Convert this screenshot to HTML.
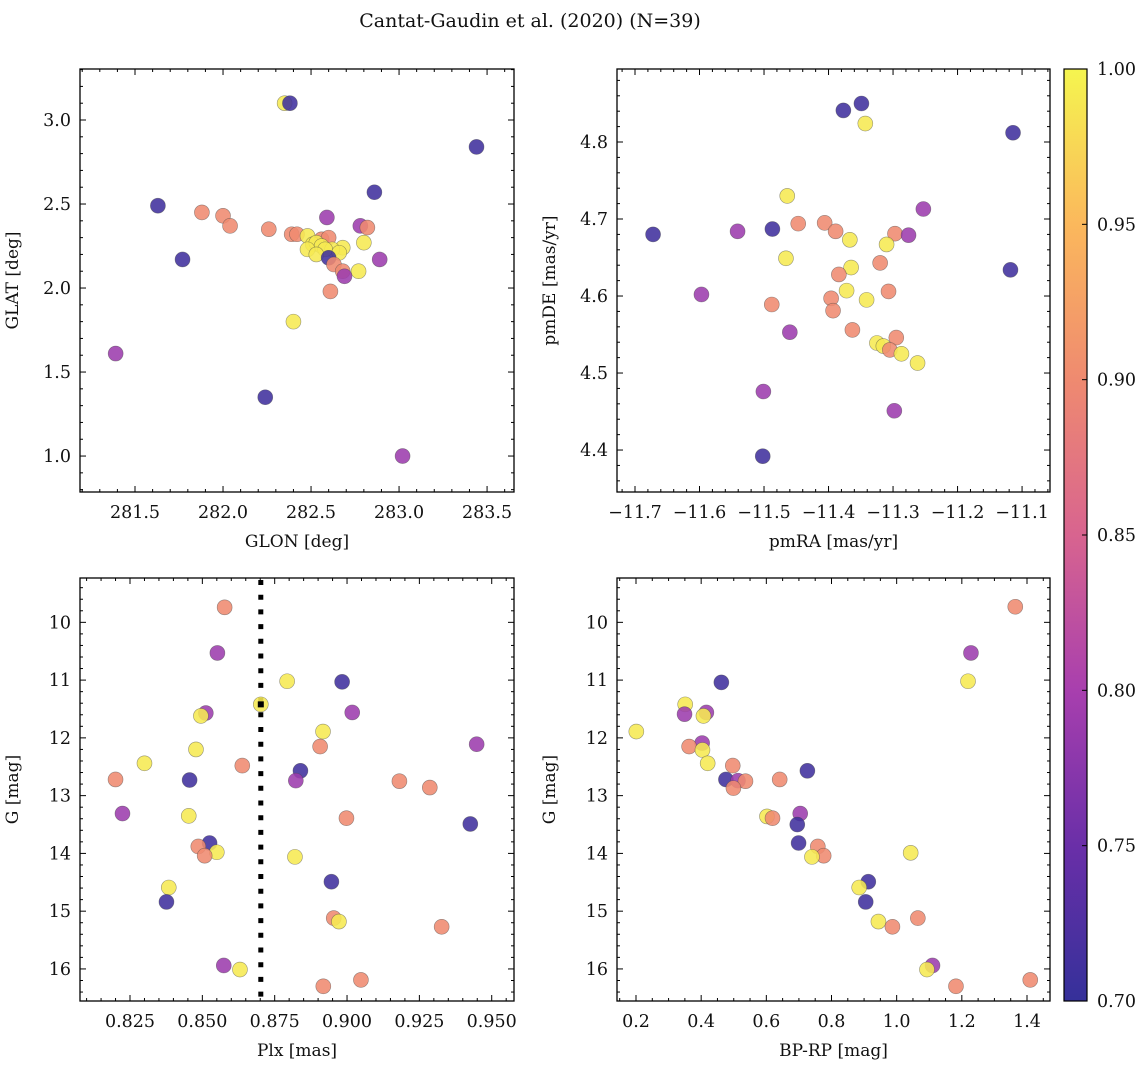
<!DOCTYPE html>
<html><head><meta charset="utf-8">
<style>
html,body{margin:0;padding:0;background:#fff;}
svg{display:block;}
text{font-family:"DejaVu Serif","Liberation Serif",serif;fill:#111;}
</style></head>
<body>
<svg id="fig" width="1148" height="1068" viewBox="0 0 1148 1068" xmlns="http://www.w3.org/2000/svg">
<defs>
<linearGradient id="cbgrad" x1="0" y1="1" x2="0" y2="0">
<stop offset="0" stop-color="#35309a"/>
<stop offset="0.1667" stop-color="#6a2fa8"/>
<stop offset="0.3333" stop-color="#a83fae"/>
<stop offset="0.5" stop-color="#d8648f"/>
<stop offset="0.6667" stop-color="#ef8a70"/>
<stop offset="0.8333" stop-color="#fbb85c"/>
<stop offset="1" stop-color="#f5f54f"/>
</linearGradient>
</defs>
<text x="530" y="27" text-anchor="middle" font-size="19">Cantat-Gaudin et al. (2020) (N=39)</text>
</svg>
<script>
// ---- Top-left: GLON vs GLAT ----
const tlGlon=[282.35,282.38,283.44,282.86,281.63,281.88,282.00,282.59,282.04,282.78,282.82,282.26,282.39,282.42,282.56,282.60,282.48,282.51,282.53,282.80,282.56,282.68,282.48,282.62,282.58,282.66,282.53,282.60,281.77,282.89,282.63,282.77,282.68,282.69,282.61,282.40,281.39,282.24,283.02];
const tlGlat=[3.10,3.10,2.84,2.57,2.49,2.45,2.43,2.42,2.37,2.37,2.36,2.35,2.32,2.32,2.29,2.30,2.31,2.26,2.27,2.27,2.25,2.24,2.23,2.23,2.23,2.21,2.20,2.18,2.17,2.17,2.14,2.10,2.10,2.07,1.98,1.80,1.61,1.35,1.00];
const tlProb=[0.99,0.71,0.71,0.71,0.71,0.90,0.90,0.79,0.90,0.79,0.90,0.90,0.90,0.90,0.90,0.90,0.99,0.99,0.99,0.99,0.99,0.99,0.99,0.99,0.99,0.99,0.99,0.71,0.71,0.79,0.90,0.99,0.90,0.79,0.90,0.99,0.79,0.71,0.79];
// ---- Top-right: pmRA vs pmDE ----
const trPmra=[-11.377,-11.349,-11.343,-11.114,-11.464,-11.253,-11.447,-11.406,-11.389,-11.672,-11.541,-11.487,-11.367,-11.297,-11.276,-11.310,-11.466,-11.320,-11.365,-11.118,-11.384,-11.372,-11.307,-11.597,-11.396,-11.341,-11.488,-11.393,-11.460,-11.363,-11.295,-11.325,-11.315,-11.305,-11.287,-11.262,-11.501,-11.298,-11.502];
const trPmde=[4.841,4.850,4.824,4.812,4.730,4.713,4.694,4.695,4.684,4.680,4.684,4.687,4.673,4.681,4.679,4.667,4.649,4.643,4.637,4.634,4.628,4.607,4.606,4.602,4.597,4.595,4.589,4.581,4.553,4.556,4.546,4.539,4.535,4.530,4.525,4.513,4.476,4.451,4.392];
const trProb=[0.71,0.71,0.99,0.71,0.99,0.79,0.90,0.90,0.90,0.71,0.79,0.71,0.99,0.90,0.79,0.99,0.99,0.90,0.99,0.71,0.90,0.99,0.90,0.79,0.90,0.99,0.90,0.90,0.79,0.90,0.90,0.99,0.99,0.90,0.99,0.99,0.79,0.79,0.71];
// ---- Bottom-left: Plx vs G ----
const blPlx=[0.8577,0.8552,0.8793,0.8983,0.8702,0.8512,0.8495,0.9018,0.8917,0.8907,0.9448,0.8478,0.8300,0.8638,0.8839,0.8200,0.8456,0.8823,0.9181,0.9286,0.8224,0.8453,0.8998,0.9426,0.8525,0.8486,0.8550,0.8508,0.8820,0.8946,0.8384,0.8376,0.8954,0.8972,0.9327,0.8574,0.8630,0.8918,0.9048];
const blG=[9.74,10.53,11.02,11.03,11.42,11.57,11.62,11.56,11.89,12.15,12.11,12.20,12.44,12.48,12.57,12.72,12.73,12.74,12.75,12.86,13.31,13.35,13.39,13.49,13.82,13.88,13.98,14.04,14.06,14.49,14.59,14.84,15.12,15.18,15.27,15.94,16.01,16.30,16.19];
const blProb=[0.90,0.79,0.99,0.71,0.99,0.79,0.99,0.79,0.99,0.90,0.79,0.99,0.99,0.90,0.71,0.90,0.71,0.79,0.90,0.90,0.79,0.99,0.90,0.71,0.71,0.90,0.99,0.90,0.99,0.71,0.99,0.71,0.90,0.99,0.90,0.79,0.99,0.90,0.90];
const blMarkedPlx=[0.8702];
const blMarkedG=[11.42];
const blVline=[0.8702];
// ---- Bottom-right: BP-RP vs G ----
const brBprp=[1.364,1.228,1.219,0.462,0.351,0.349,0.416,0.407,0.201,0.403,0.363,0.404,0.420,0.497,0.726,0.476,0.513,0.536,0.499,0.641,0.704,0.602,0.619,0.695,0.699,0.758,0.776,0.740,1.043,0.913,0.885,0.905,1.065,0.944,0.987,1.110,1.093,1.182,1.410];
const brG=[9.73,10.53,11.02,11.04,11.42,11.59,11.56,11.62,11.89,12.09,12.15,12.21,12.44,12.48,12.57,12.72,12.74,12.75,12.87,12.72,13.31,13.36,13.39,13.50,13.82,13.88,14.04,14.06,13.99,14.49,14.59,14.84,15.12,15.18,15.27,15.94,16.01,16.30,16.19];
const brProb=[0.90,0.79,0.99,0.71,0.99,0.79,0.79,0.99,0.99,0.79,0.90,0.99,0.99,0.90,0.71,0.71,0.79,0.90,0.90,0.90,0.79,0.99,0.90,0.71,0.71,0.90,0.90,0.99,0.99,0.71,0.99,0.71,0.90,0.99,0.90,0.79,0.99,0.90,0.90];
// ---- Colorbar ----
const cbTicks=[0.70,0.75,0.80,0.85,0.90,0.95,1.00];

const NS='http://www.w3.org/2000/svg';
const svg=document.getElementById('fig');
function mk(tag,attrs,parent){const e=document.createElementNS(NS,tag);for(const k in attrs)e.setAttribute(k,attrs[k]);(parent||svg).appendChild(e);return e;}
const cmStops=[[0.70,[53,48,154]],[0.75,[106,47,168]],[0.80,[168,63,174]],[0.85,[216,100,143]],[0.90,[239,138,112]],[0.95,[251,184,92]],[1.00,[245,245,79]]];
function cmap(v){v=Math.max(0.7,Math.min(1,v));for(let i=0;i<cmStops.length-1;i++){const a=cmStops[i],b=cmStops[i+1];if(v<=b[0]){const t=(v-a[0])/(b[0]-a[0]);const c=a[1].map((x,j)=>Math.round(x+(b[1][j]-x)*t));return 'rgb('+c.join(',')+')';}}return 'rgb(245,245,79)';}

function fmtMinus(s){return s.replace('-','\u2212');}

function panel(cfg){
  const g=mk('g',{});
  
  
  const X=v=>cfg.x0+(v-cfg.xlim[0])/(cfg.xlim[1]-cfg.xlim[0])*(cfg.x1-cfg.x0);
  const Y=v=>cfg.y1-(v-cfg.ylim[0])/(cfg.ylim[1]-cfg.ylim[0])*(cfg.y1-cfg.y0);
  const pg=mk('g',{},g);
  
  
  if(cfg.vline){
    cfg.vline.forEach(v=>{
      const l=mk('line',{x1:X(v),x2:X(v),y1:cfg.y0+2,y2:cfg.y1,stroke:'#000','stroke-width':5,'stroke-dasharray':'5 9.7'},pg);
      
      
    });
  }
  for(let i=0;i<cfg.xs.length;i++){
    const c=mk('circle',{cx:X(cfg.xs[i]),cy:Y(cfg.ys[i]),r:7.5,fill:cmap(cfg.ps[i]),'fill-opacity':0.88,stroke:'rgba(70,70,70,0.55)','stroke-width':0.6},pg);
    
    
  }
  if(cfg.markX){
    for(let i=0;i<cfg.markX.length;i++){
      const s=mk('rect',{x:X(cfg.markX[i])-3,y:Y(cfg.markY[i])-3,width:6,height:6,fill:'#000'},pg);
      
      
    }
  }
  const tg=mk('g',{stroke:'#000','stroke-width':1},g);
  
  
  const eps=1e-9;
  const lo=Math.min(...cfg.xlim),hi=Math.max(...cfg.xlim);
  for(let v=Math.ceil(lo/cfg.xminor-eps)*cfg.xminor;v<=hi+eps;v+=cfg.xminor){
    const px=X(v);
    const isMaj=Math.abs(v/cfg.xmajor-Math.round(v/cfg.xmajor))<1e-4;
    const L=isMaj?6:3;
    mk('line',{x1:px,x2:px,y1:cfg.y1,y2:cfg.y1-L},tg);
    mk('line',{x1:px,x2:px,y1:cfg.y0,y2:cfg.y0+L},tg);
    if(isMaj){
      const t=mk('text',{x:px,y:cfg.y1+26,'text-anchor':'middle','font-size':17.5,stroke:'none'},g);
      
      
      t.textContent=fmtMinus(v.toFixed(cfg.xdec));
    }
  }
  const ylo=Math.min(...cfg.ylim),yhi=Math.max(...cfg.ylim);
  for(let v=Math.ceil(ylo/cfg.yminor-eps)*cfg.yminor;v<=yhi+eps;v+=cfg.yminor){
    const py=Y(v);
    const isMaj=Math.abs(v/cfg.ymajor-Math.round(v/cfg.ymajor))<1e-4;
    const L=isMaj?6:3;
    mk('line',{x1:cfg.x0,x2:cfg.x0+L,y1:py,y2:py},tg);
    mk('line',{x1:cfg.x1,x2:cfg.x1-L,y1:py,y2:py},tg);
    if(isMaj){
      const t=mk('text',{x:cfg.x0-9,y:py+6,'text-anchor':'end','font-size':17.5,stroke:'none'},g);
      
      
      t.textContent=fmtMinus(v.toFixed(cfg.ydec));
    }
  }
  const fr=mk('rect',{x:cfg.x0,y:cfg.y0,width:cfg.x1-cfg.x0,height:cfg.y1-cfg.y0,fill:'none',stroke:'#000','stroke-width':1.3},g);
  
  
  const xl=mk('text',{x:(cfg.x0+cfg.x1)/2,y:cfg.y1+55,'text-anchor':'middle','font-size':17},g);
  
  
  xl.textContent=cfg.xlabel;
  const cy=(cfg.y0+cfg.y1)/2, lx=cfg.x0-62;
  const yl=mk('text',{x:lx,y:cy,'text-anchor':'middle','font-size':17,transform:'rotate(-90 '+lx+' '+cy+')'},g);
  
  
  yl.textContent=cfg.ylabel;
}

panel({name:'glon-glat-panel',x0:80,x1:514,y0:69,y1:492,xlim:[281.1875,283.653],ylim:[0.786,3.3036],xmajor:0.5,xminor:0.1,ymajor:0.5,yminor:0.1,xdec:1,ydec:1,xs:tlGlon,ys:tlGlat,ps:tlProb,xlabel:'GLON [deg]',ylabel:'GLAT [deg]'});
panel({name:'proper-motion-panel',x0:617,x1:1050,y0:69,y1:492,xlim:[-11.7279,-11.0567],ylim:[4.3455,4.8948],xmajor:0.1,xminor:0.02,ymajor:0.1,yminor:0.02,xdec:1,ydec:1,xs:trPmra,ys:trPmde,ps:trProb,xlabel:'pmRA [mas/yr]',ylabel:'pmDE [mas/yr]'});
panel({name:'parallax-mag-panel',x0:80,x1:514,y0:578,y1:1001,xlim:[0.80772,0.9577],ylim:[16.555,9.2325],xmajor:0.025,xminor:0.005,ymajor:1,yminor:0.2,xdec:3,ydec:0,xs:blPlx,ys:blG,ps:blProb,xlabel:'Plx [mas]',ylabel:'G [mag]',vline:blVline,markX:blMarkedPlx,markY:blMarkedG});
panel({name:'cmd-panel',x0:617,x1:1050,y0:578,y1:1001,xlim:[0.1417,1.4706],ylim:[16.555,9.2325],xmajor:0.2,xminor:0.05,ymajor:1,yminor:0.2,xdec:1,ydec:0,xs:brBprp,ys:brG,ps:brProb,xlabel:'BP-RP [mag]',ylabel:'G [mag]'});

(function(){
  const x0=1064,x1=1087,y0=69,y1=1001;
  const g=mk('g',{});
  
  
  const r=mk('rect',{x:x0,y:y0,width:x1-x0,height:y1-y0,fill:'url(#cbgrad)',stroke:'#000','stroke-width':1.2},g);
  
  
  const C=v=>y1-(v-0.7)/0.3*(y1-y0);
  cbTicks.forEach(v=>{
    const py=C(v);
    mk('line',{x1:x1,x2:x1-5,y1:py,y2:py,stroke:'#000','stroke-width':1},g);
    const t=mk('text',{x:x1+10,y:py+6,'font-size':17.5},g);
    
    
    t.textContent=v.toFixed(2);
  });
})();
</script>
</body></html>
